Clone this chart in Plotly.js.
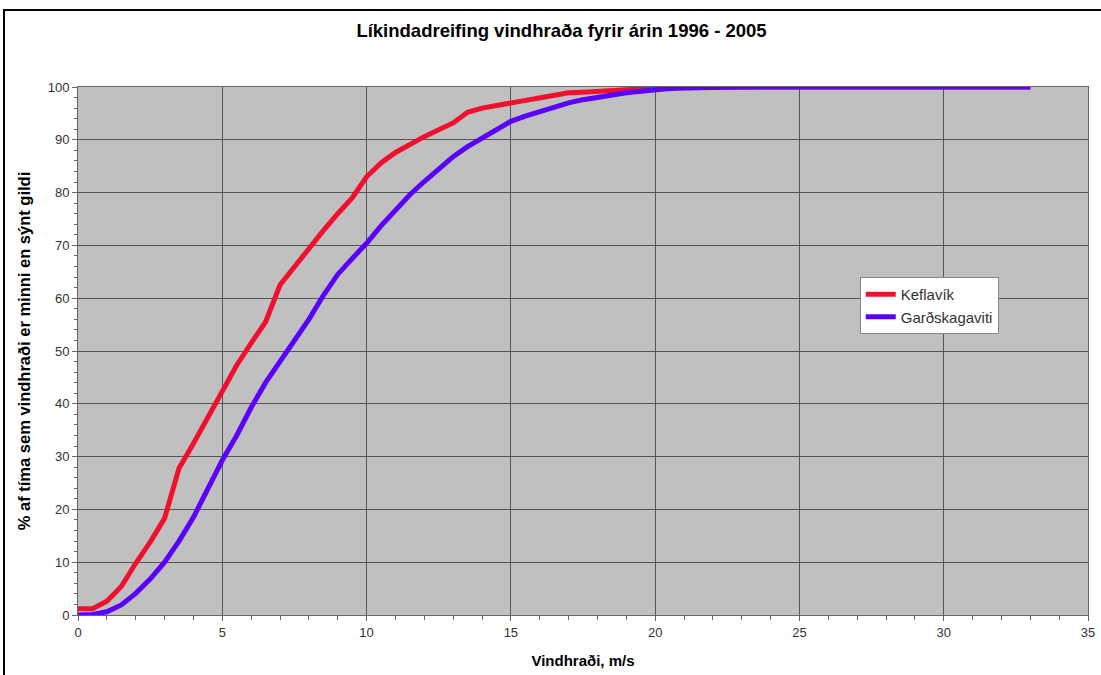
<!DOCTYPE html>
<html>
<head>
<meta charset="utf-8">
<script src="https://cdn.plot.ly/plotly-3.0.1.min.js"></script>
<style>
  html, body { margin: 0; padding: 0; background: #fff; }
  #wrap { position: relative; width: 1101px; height: 675px; }
  #chart { width: 1101px; height: 675px; }
  #frame { position: absolute; left: 3px; top: 9px; width: 1110px; height: 700px;
           border-left: 2px solid #000; border-top: 2px solid #000; pointer-events: none; box-sizing: border-box; }
</style>
</head>
<body>
<div id="wrap">
  <div id="chart"></div>
  <div id="frame"></div>
</div>
<script>
const windSpeed = [0,0.5,1,1.5,2,2.5,3,3.5,4,4.5,5,5.5,6,6.5,7,7.5,8,8.5,9,9.5,10,10.5,11,11.5,12,12.5,13,13.5,14,14.5,15,15.5,16,16.5,17,17.5,18,18.5,19,19.5,20,20.5,21,21.5,22,22.5,23,23.5,24,24.5,25,25.5,26,26.5,27,27.5,28,28.5,29,29.5,30,30.5,31,31.5,32,32.5,33];

const keflavik = [1.2,1.2,2.6,5.4,9.8,13.8,18.3,27.8,32.5,37.5,42.3,47.3,51.5,55.5,62.5,66,69.3,72.8,76,79,83,85.6,87.6,89.2,90.6,91.9,93.2,95.2,96,96.5,97,97.5,98,98.5,98.9,99,99.2,99.4,99.6,99.7,99.8,99.85,99.9,99.95,100,100,100,100,100,100,100,100,100,100,100,100,100,100,100,100,100,100,100,100,100,100,100];

const gardskagaviti = [0,0.1,0.6,1.9,4.1,6.8,10,14,18.5,24,29.3,34,39.3,44,48,52,56,60.5,64.5,67.5,70.4,73.7,76.8,79.6,82.1,84.4,86.8,88.7,90.3,91.9,93.5,94.5,95.4,96.2,97,97.6,98.1,98.5,98.9,99.2,99.5,99.7,99.8,99.9,99.95,100,100,100,100,100,100,100,100,100,100,100,100,100,100,100,100,100,100,100,100,100,100];

const seriesNames = ["Keflavík", "Garðskagaviti"];
const titleText = "Líkindadreifing vindhraða fyrir árin 1996 - 2005";
const xTitle = "Vindhraði, m/s";
const yTitle = "% af tíma sem vindhraði er minni en sýnt gildi";

const FONT = "Arial, 'Liberation Sans', sans-serif";

const traces = [
  { x: windSpeed, y: keflavik, name: seriesNames[0], type: "scatter", mode: "lines",
    line: { color: "#f0102e", width: 5 } },
  { x: windSpeed, y: gardskagaviti, name: seriesNames[1], type: "scatter", mode: "lines",
    line: { color: "#5a00ff", width: 5 } }
];

const layout = {
  width: 1101, height: 675,
  margin: { l: 78, r: 13, t: 87, b: 60 },
  paper_bgcolor: "#ffffff",
  plot_bgcolor: "#c0c0c0",
  font: { family: FONT, size: 13, color: "#333" },
  title: { text: titleText, font: { family: FONT, size: 18.5, color: "#000", weight: "bold" },
           x: 0.51, xref: "container", xanchor: "center", y: 0.955, yref: "container", yanchor: "middle" },
  showlegend: true,
  legend: { x: 0.774, y: 0.64, xanchor: "left", yanchor: "top", bgcolor: "#ffffff",
            bordercolor: "#888", borderwidth: 1, font: { family: FONT, size: 15, color: "#333" },
            tracegroupgap: 0, itemwidth: 30 },
  xaxis: {
    range: [0, 35], dtick: 5, tick0: 0,
    showgrid: true, gridcolor: "#555", gridwidth: 1,
    zeroline: false,
    showline: true, linecolor: "#666", linewidth: 1, mirror: true,
    ticks: "outside", ticklen: 5, tickcolor: "#666",
    minor: { dtick: 1, ticks: "outside", ticklen: 4, tickcolor: "#666", showgrid: false },
    tickfont: { family: FONT, size: 13, color: "#333" },
    title: { text: xTitle, font: { family: FONT, size: 15, color: "#000", weight: "bold" }, standoff: 16 }
  },
  yaxis: {
    range: [0, 100], dtick: 10, tick0: 0,
    showgrid: true, gridcolor: "#555", gridwidth: 1,
    zeroline: false,
    showline: true, linecolor: "#666", linewidth: 1, mirror: true,
    ticks: "outside", ticklen: 5, tickcolor: "#666",
    minor: { dtick: 2, ticks: "outside", ticklen: 3, tickcolor: "#666", showgrid: false },
    tickfont: { family: FONT, size: 13, color: "#333" },
    title: { text: yTitle, font: { family: FONT, size: 16.5, color: "#000", weight: "bold" }, standoff: 12 }
  }
};

Plotly.newPlot("chart", traces, layout, { displayModeBar: false, staticPlot: true });
</script>
</body>
</html>
